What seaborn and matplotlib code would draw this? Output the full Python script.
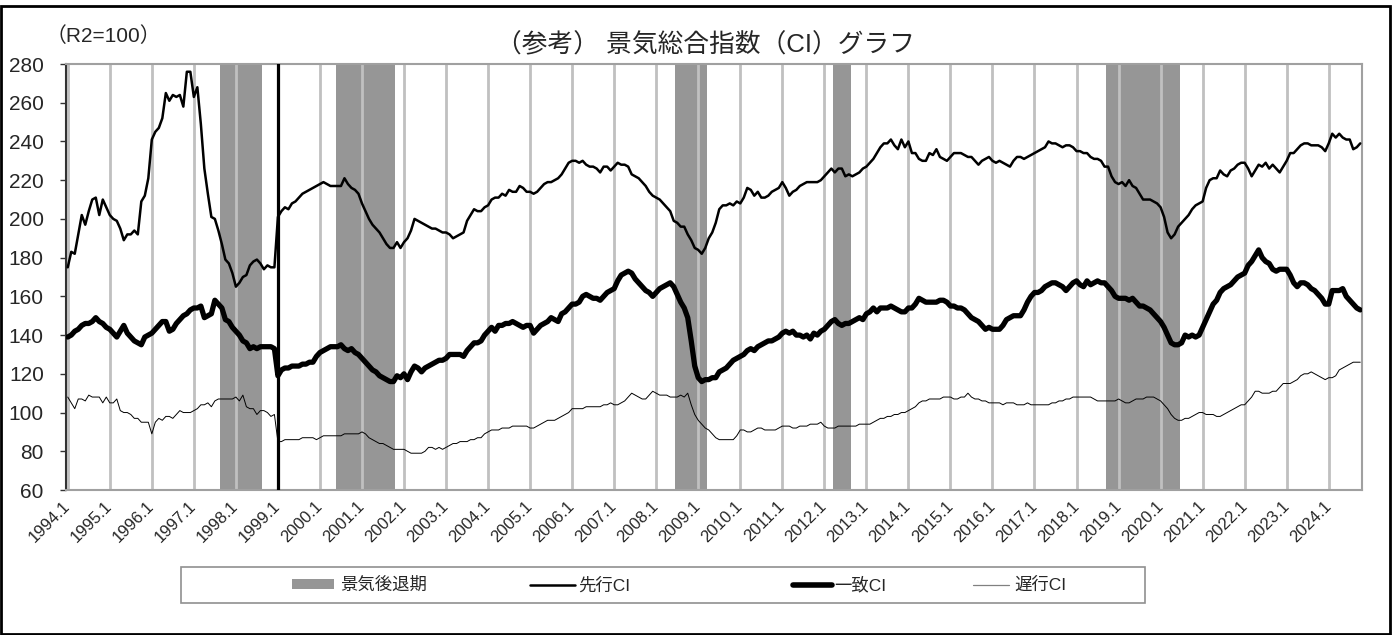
import numpy as np
import pandas as pd
import matplotlib
matplotlib.use("Agg")
import matplotlib.pyplot as plt
import seaborn as sns
from matplotlib.patches import Rectangle, Patch
from matplotlib.lines import Line2D

# ---------------- data (monthly, 1994.1 - 2024.10) ----------------
start_year = 1994
leading_ci = [
    175, 183, 182, 192, 202, 197, 204, 210, 211, 202, 210, 206,  # 1994
    202, 200, 199, 195, 189, 192, 192, 194, 192, 209, 212, 221,  # 1995
    241, 245, 247, 252, 265, 261, 264, 263, 264, 258, 276, 276,  # 1996
    263, 268, 249, 226, 213, 201, 200, 194, 187, 179, 177, 172,  # 1997
    165, 167, 170, 171, 176, 178, 179, 177, 174, 176, 175, 175,  # 1998
    201, 204, 206, 205, 208, 209, 211, 213, 214, 215, 216, 217,  # 1999
    218, 219, 218, 217, 217, 217, 217, 221, 218, 216, 215, 213,  # 2000
    208, 204, 200, 197, 195, 193, 190, 187, 185, 185, 188, 185,  # 2001
    188, 190, 194, 200, 199, 198, 197, 196, 195, 195, 194, 193,  # 2002
    193, 192, 190, 191, 192, 193, 199, 202, 205, 204, 204, 206,  # 2003
    207, 210, 211, 211, 213, 212, 215, 214, 214, 217, 216, 214,  # 2004
    214, 213, 214, 216, 218, 219, 219, 220, 221, 223, 226, 229,  # 2005
    230, 230, 229, 230, 228, 227, 227, 226, 224, 227, 227, 225,  # 2006
    227, 229, 228, 228, 227, 223, 222, 221, 219, 217, 214, 212,  # 2007
    211, 210, 208, 206, 204, 199, 198, 196, 196, 192, 189, 185,  # 2008
    184, 182, 185, 190, 193, 198, 205, 207, 207, 208, 207, 209,  # 2009
    208, 211, 216, 215, 212, 214, 211, 211, 212, 214, 215, 216,  # 2010
    219, 216, 212, 214, 215, 217, 218, 219, 219, 219, 219, 220,  # 2011
    222, 224, 226, 224, 226, 226, 222, 223, 222, 223, 224, 226,  # 2012
    227, 229, 231, 234, 237, 239, 239, 241, 238, 236, 241, 237,  # 2013
    240, 234, 234, 231, 230, 230, 234, 233, 236, 232, 231, 230,  # 2014
    232, 234, 234, 234, 233, 232, 232, 230, 228, 230, 231, 232,  # 2015
    230, 229, 230, 229, 228, 227, 230, 232, 232, 231, 232, 233,  # 2016
    234, 235, 236, 237, 240, 239, 239, 238, 237, 238, 238, 237,  # 2017
    235, 235, 234, 234, 232, 231, 231, 230, 227, 227, 222, 219,  # 2018
    218, 219, 217, 220, 217, 216, 213, 210, 210, 210, 209, 208,  # 2019
    206, 201, 193, 190, 192, 196, 198, 200, 202, 205, 207, 208,  # 2020
    209, 216, 220, 221, 221, 225, 223, 222, 225, 226, 228, 229,  # 2021
    229, 226, 222, 225, 228, 227, 229, 226, 228, 226, 224, 227,  # 2022
    230, 234, 234, 236, 238, 239, 239, 238, 238, 238, 237, 235,  # 2023
    239, 244, 242, 244, 242, 241, 241, 236, 237, 239,            # 2024
]
coincident_ci = [
    139, 140, 142, 143, 145, 146, 146, 147, 149, 147, 146, 144,  # 1994
    143, 141, 139, 142, 145, 141, 139, 137, 136, 135, 139, 140,  # 1995
    141, 143, 145, 147, 147, 142, 143, 146, 148, 150, 151, 153,  # 1996
    154, 154, 155, 149, 150, 151, 158, 156, 154, 148, 147, 144,  # 1997
    142, 140, 137, 136, 133, 134, 133, 134, 134, 134, 134, 133,  # 1998
    119, 122, 123, 123, 124, 124, 124, 125, 125, 126, 126, 129,  # 1999
    131, 132, 133, 134, 134, 134, 135, 133, 132, 133, 131, 130,  # 2000
    128, 126, 124, 122, 121, 119, 118, 117, 116, 116, 119, 118,  # 2001
    120, 117, 121, 124, 123, 121, 123, 124, 125, 126, 127, 127,  # 2002
    128, 130, 130, 130, 130, 129, 132, 134, 136, 136, 137, 140,  # 2003
    142, 144, 142, 145, 145, 146, 146, 147, 146, 145, 144, 145,  # 2004
    145, 141, 143, 145, 146, 147, 149, 148, 147, 151, 152, 154,  # 2005
    156, 156, 157, 160, 161, 160, 159, 159, 158, 160, 162, 163,  # 2006
    164, 168, 171, 172, 173, 172, 169, 167, 165, 163, 162, 160,  # 2007
    162, 164, 165, 166, 167, 165, 161, 157, 154, 149, 137, 124,  # 2008
    118, 116, 117, 117, 118, 118, 121, 122, 123, 125, 127, 128,  # 2009
    129, 130, 132, 133, 132, 134, 135, 136, 137, 137, 138, 139,  # 2010
    141, 142, 141, 142, 140, 140, 139, 140, 138, 141, 140, 142,  # 2011
    143, 145, 147, 148, 146, 145, 146, 146, 147, 148, 149, 148,  # 2012
    151, 152, 154, 152, 154, 154, 154, 155, 154, 153, 152, 152,  # 2013
    154, 154, 156, 159, 158, 157, 157, 157, 157, 158, 158, 157,  # 2014
    155, 155, 154, 154, 153, 151, 149, 148, 147, 145, 143, 144,  # 2015
    143, 143, 143, 145, 148, 149, 150, 150, 150, 153, 157, 160,  # 2016
    162, 162, 163, 165, 166, 167, 167, 166, 165, 163, 165, 167,  # 2017
    168, 166, 165, 168, 166, 167, 168, 167, 167, 165, 163, 160,  # 2018
    159, 159, 159, 158, 159, 157, 155, 155, 154, 153, 151, 149,  # 2019
    147, 144, 140, 136, 135, 135, 136, 140, 139, 140, 139, 140,  # 2020
    144, 148, 152, 156, 158, 162, 164, 165, 166, 168, 170, 171,  # 2021
    172, 176, 178, 181, 184, 180, 178, 177, 174, 173, 174, 174,  # 2022
    174, 171, 167, 165, 167, 167, 166, 164, 163, 161, 159, 156,  # 2023
    156, 163, 163, 163, 164, 160, 158, 156, 154, 153,            # 2024
]
lagging_ci = [
    108, 105, 102, 107, 107, 106, 109, 108, 108, 108, 105, 108,  # 1994
    105, 105, 107, 101, 100, 100, 99, 97, 97, 95, 95, 95,        # 1995
    89, 95, 97, 96, 98, 98, 97, 99, 101, 100, 100, 100,          # 1996
    101, 102, 104, 104, 105, 103, 106, 107, 107, 107, 107, 107,  # 1997
    108, 106, 109, 103, 102, 102, 99, 101, 101, 100, 98, 99,     # 1998
    85, 85, 86, 86, 86, 86, 86, 87, 87, 87, 87, 86,              # 1999
    87, 88, 88, 88, 88, 88, 88, 89, 89, 89, 89, 89,              # 2000
    90, 89, 87, 86, 85, 84, 84, 83, 82, 81, 81, 81,              # 2001
    81, 80, 79, 79, 79, 79, 80, 82, 82, 81, 82, 81,              # 2002
    82, 83, 84, 84, 85, 85, 85, 86, 86, 87, 87, 89,              # 2003
    90, 91, 91, 91, 92, 92, 92, 93, 93, 93, 93, 93,              # 2004
    92, 92, 93, 94, 95, 96, 96, 96, 97, 98, 99, 100,             # 2005
    102, 102, 102, 102, 103, 103, 103, 103, 103, 104, 104, 105,  # 2006
    104, 104, 105, 106, 108, 110, 109, 108, 107, 107, 109, 111,  # 2007
    110, 109, 109, 109, 108, 108, 108, 109, 108, 110, 104, 99,   # 2008
    96, 94, 92, 91, 89, 87, 86, 86, 86, 86, 86, 88,              # 2009
    91, 91, 90, 90, 91, 92, 92, 91, 91, 91, 91, 92,              # 2010
    93, 93, 93, 92, 92, 93, 93, 93, 94, 94, 94, 95,              # 2011
    93, 92, 92, 92, 93, 93, 93, 93, 93, 93, 94, 94,              # 2012
    94, 94, 95, 96, 97, 97, 98, 98, 99, 99, 100, 100,            # 2013
    101, 102, 103, 105, 106, 106, 107, 107, 107, 107, 108, 108,  # 2014
    108, 107, 107, 108, 108, 110, 108, 107, 107, 106, 106, 105,  # 2015
    105, 105, 105, 104, 105, 105, 105, 104, 104, 104, 105, 104,  # 2016
    104, 104, 104, 104, 104, 105, 105, 106, 106, 107, 107, 108,  # 2017
    108, 108, 108, 108, 108, 107, 106, 106, 106, 106, 106, 106,  # 2018
    107, 106, 105, 105, 106, 107, 107, 107, 108, 108, 108, 107,  # 2019
    106, 104, 102, 99, 97, 96, 96, 97, 97, 98, 99, 100,          # 2020
    100, 99, 99, 99, 98, 98, 99, 100, 101, 102, 103, 104,        # 2021
    104, 106, 108, 111, 111, 110, 110, 110, 111, 111, 113, 115,  # 2022
    115, 115, 116, 117, 119, 120, 120, 121, 120, 119, 118, 117,  # 2023
    118, 118, 119, 122, 123, 124, 125, 126, 126, 126,            # 2024
]
# recession periods (景気後退期): (start year, month), (end year, month)
recession_start = [(1997, 9), (2000, 6), (2008, 7), (2012, 4), (2018, 10)]
recession_end = [(1998, 8), (2001, 10), (2009, 3), (2012, 8), (2020, 6)]
base_break = (1999, 1)
tick_labels = [f"{y}.1" for y in range(1994, 2025)]
y_ticks = list(range(60, 281, 20))

def midx(ym):
    return (ym[0] - start_year) * 12 + ym[1] - 1

n = len(leading_ci)
df = pd.DataFrame({"idx": np.arange(n), "先行CI": leading_ci,
                   "一致CI": coincident_ci, "遅行CI": lagging_ci})

# ---------------- figure ----------------
sns.set_style("white")
plt.rcParams["font.family"] = ["Liberation Sans", "Noto Sans CJK JP"]

W, H = 1396, 635
fig = plt.figure(figsize=(W / 100, H / 100), dpi=100)
ax = fig.add_axes([66 / W, 1 - 490 / H, (1362 - 66) / W, (490 - 64) / H])

SHADE = "#969696"
GRID = "#C0C0C0"
for s, e in zip(recession_start, recession_end):
    ax.axvspan(midx(s) - 0.5, midx(e) + 0.5, color=SHADE, lw=0, zorder=1)
jan_idx = [i * 12 for i in range(len(tick_labels))]
for j in jan_idx:
    ax.axvline(j, color=GRID, lw=2.0, zorder=2)
ax.axvline(midx(base_break), color="black", lw=2.3, zorder=3)

sns.lineplot(data=df, x="idx", y="遅行CI", color="black", linewidth=0.7, ax=ax, zorder=4)
sns.lineplot(data=df, x="idx", y="先行CI", color="black", linewidth=1.8, ax=ax, zorder=5)
sns.lineplot(data=df, x="idx", y="一致CI", color="black", linewidth=3.8, ax=ax, zorder=6)

ax.set_xlim(-0.5, n - 0.5)
ax.set_ylim(60, 280)
ax.set_yticks(y_ticks)
ax.set_yticklabels([str(v) for v in y_ticks], fontsize=15)
ax.set_xticks(jan_idx)
ax.set_xticklabels(tick_labels, fontsize=12, rotation=45, ha="right",
                   va="center", rotation_mode="anchor")
ax.tick_params(axis="x", length=0, pad=10)
ax.tick_params(axis="y", direction="out", length=4, width=1, color="#333333", pad=12, left=True)
ax.set_xlabel("")
ax.set_ylabel("")
for side in ["top", "right", "bottom"]:
    ax.spines[side].set_color("#A0A0A0")
    ax.spines[side].set_linewidth(1.5)
ax.spines["left"].set_color("#333333")
ax.spines["left"].set_linewidth(1.5)

# texts
fig.text(705 / W, 1 - 45 / H, "（参考） 景気総合指数（CI）グラフ", ha="center", va="center", fontsize=18.5)
fig.text(46 / W, 1 - 36 / H, "（R2=100）", ha="left", va="center", fontsize=15)

# legend box
fig.patches.append(Rectangle((181 / W, 1 - 603 / H), (1145 - 181) / W, 36 / H,
                             transform=fig.transFigure, fill=False, edgecolor="#909090", lw=1.2))
ly = 1 - 585 / H
entries = [
    (Patch(facecolor=SHADE, edgecolor="none"), "景気後退期", 292, 2.4, 0.35),
    (Line2D([], [], color="black", lw=1.8), "先行CI", 530, 2.6, 0.2),
    (Line2D([], [], color="black", lw=4.0), "一致CI", 793, 2.25, 0.15),
    (Line2D([], [], color="#808080", lw=0.9), "遅行CI", 973, 2.1, 0.3),
]
for h, lab, x, hl, tp in entries:
    leg = fig.legend([h], [lab], loc="center left", bbox_to_anchor=(x / W, ly),
                     bbox_transform=fig.transFigure, frameon=False, fontsize=12.5,
                     handlelength=hl, handleheight=0.5, handletextpad=tp,
                     borderpad=0, borderaxespad=0)

# outer frame
fig.patches.append(Rectangle((1 / W, 1 / H), 1389 / W, (H - 7) / H,
                             transform=fig.transFigure, fill=False, edgecolor="black", lw=2))

fig.savefig("out.png", dpi=100)
